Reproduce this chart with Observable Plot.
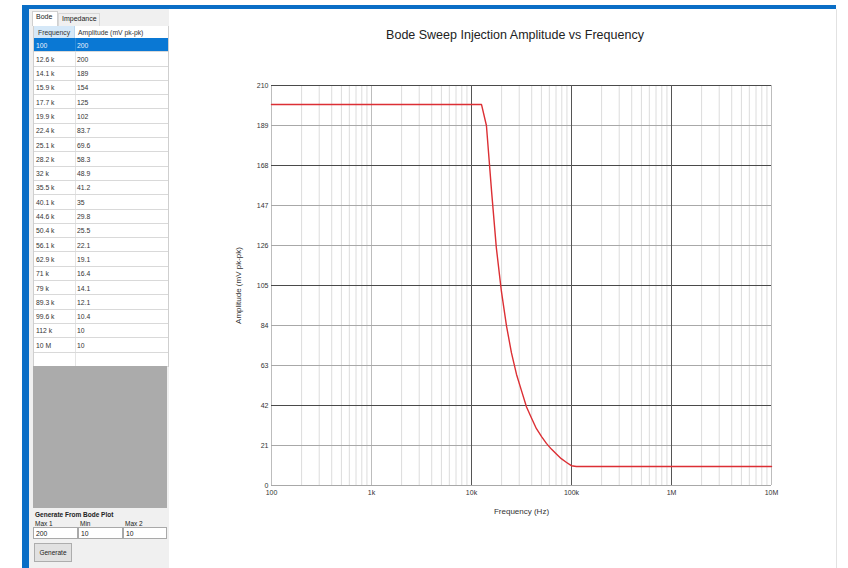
<!DOCTYPE html>
<html>
<head>
<meta charset="utf-8">
<script src="https://cdn.jsdelivr.net/npm/d3@7"></script>
<script src="https://cdn.jsdelivr.net/npm/@observablehq/plot@0.6"></script>
<style>
  html, body { margin: 0; padding: 0; }
  body { width: 848px; height: 568px; position: relative; overflow: hidden; background: #fff;
         font-family: "Liberation Sans", Arial, sans-serif; }
  .abs { position: absolute; }
  #blueTop { left: 22px; top: 5px; width: 814px; height: 4px; background: #0a6ec6; }
  #blueLeft { left: 22px; top: 5px; width: 7px; height: 563px; background: #0a6ec6; }
  #leftPanel { left: 29px; top: 9px; width: 140px; height: 559px; background: #f0f0f0; }
  #chartPanel { left: 169px; top: 9px; width: 667px; height: 559px; background: #fff; border-right: 1px solid #e2e2e2; }
  .tab { font-size: 7px; color: #222; padding: 1px 3px; box-sizing: border-box; }
  #table { left: 33px; top: 26px; width: 134px; background: #fff; border-left: 1px solid #cfcfcf; border-right: 1px solid #cfcfcf; }
  .row { position: relative; height: 14.3px; border-bottom: 1px solid #d9d9d9; box-sizing: border-box; font-size: 6.8px; color: #333; }
  .row .c1 { position: absolute; left: 2px; top: 3.5px; }
  .row .c2 { position: absolute; left: 43px; top: 3.5px; }
  .row .sep { position: absolute; left: 41px; top: 0; bottom: 0; width: 1px; background: #e4e4e4; }
  .row.sel { background: #0a78d4; color: #e8f1fb; }
  .row.sel .sep { background: #2b8ad8; }
  .hdr { position: relative; height: 12px; font-size: 6.8px; color: #333; }
  .hdr .h1 { position: absolute; left: 0; top: 0; width: 41px; height: 12px; background: #d5e8f8; border-right: 1px solid #bcd7ee; box-sizing: border-box; padding: 2.5px 0 0 4px; }
  .hdr .h2 { position: absolute; left: 41px; top: 0; width: 92px; height: 12px; padding: 2.5px 0 0 3px; box-sizing: border-box; }
  #grayArea { left: 33px; top: 366px; width: 134px; height: 142px; background: #ababab; }
  .lbl { font-size: 6.5px; color: #222; }
  .inp { height: 12px; background: #fff; border: 1px solid #a9a9a9; box-sizing: border-box; font-size: 6.8px; color: #222; padding: 2px 0 0 2px; }
  #btn { left: 34px; top: 543px; width: 38px; height: 19px; background: #e1e1e1; border: 1px solid #adadad; box-sizing: border-box; font-size: 6.5px; color: #222; text-align: center; line-height: 17px; }
  #title { left: 170px; top: 28px; width: 690px; text-align: center; font-size: 12.5px; color: #222; }
  #plotWrap { left: 170px; top: 0px; }
</style>
</head>
<body>
<script>
// ---- data ----
const freqLabels = ["100","12.6 k","14.1 k","15.9 k","17.7 k","19.9 k","22.4 k","25.1 k","28.2 k","32 k","35.5 k","40.1 k","44.6 k","50.4 k","56.1 k","62.9 k","71 k","79 k","89.3 k","99.6 k","112 k","10 M"];
const frequencies = [100,12600,14100,15900,17700,19900,22400,25100,28200,32000,35500,40100,44600,50400,56100,62900,71000,79000,89300,99600,112000,10000000];
const amplitudes = [200,200,189,154,125,102,83.7,69.6,58.3,48.9,41.2,35,29.8,25.5,22.1,19.1,16.4,14.1,12.1,10.4,10,10];
const amplitudeLabels = ["200","200","189","154","125","102","83.7","69.6","58.3","48.9","41.2","35","29.8","25.5","22.1","19.1","16.4","14.1","12.1","10.4","10","10"];
const yTicks = [0,21,42,63,84,105,126,147,168,189,210];
const yDarkTicks = [210,168,105,42];
const xTicks = [100,1000,10000,100000,1000000,10000000];
const xTickLabels = ["100","1k","10k","100k","1M","10M"];
const xDarkTicks = [10000,100000,1000000];
const generateLabels = ["Max 1","Min","Max 2"];
const generateValues = ["200","10","10"];

function el(cls, css, html, id) {
  const d = document.createElement("div");
  d.className = cls; if (id) d.id = id;
  Object.assign(d.style, css || {});
  if (html != null) d.innerHTML = html;
  document.body.appendChild(d);
  return d;
}

el("abs", null, null, "leftPanel");
el("abs", null, null, "chartPanel");
el("abs", null, null, "blueTop");
el("abs", null, null, "blueLeft");

// tabs
el("abs tab", {left:"32px", top:"11px", width:"26px", height:"15px", background:"#fff", border:"1px solid #d0d0d0", borderBottom:"none"}, "Bode");
el("abs tab", {left:"58px", top:"13px", width:"42px", height:"13px", background:"#f0f0f0", border:"1px solid #d8d8d8", borderBottom:"none"}, "Impedance");

// table
const table = el("abs", null, null, "table");
const hdr = document.createElement("div"); hdr.className = "hdr";
hdr.innerHTML = '<div class="h1">Frequency</div><div class="h2">Amplitude (mV pk-pk)</div>';
table.appendChild(hdr);
freqLabels.forEach((f, i) => {
  const r = document.createElement("div");
  r.className = "row" + (i === 0 ? " sel" : "");
  r.innerHTML = '<div class="sep"></div><div class="c1">' + f + '</div><div class="c2">' + amplitudeLabels[i] + '</div>';
  table.appendChild(r);
});
const empty = document.createElement("div"); empty.className = "row";
empty.innerHTML = '<div class="sep"></div>';
table.appendChild(empty);

el("abs", null, null, "grayArea");
el("abs lbl", {left:"35px", top:"511px", fontWeight:"bold"}, "Generate From Bode Plot");
const colX = [35, 80, 125];
generateLabels.forEach((t, i) => el("abs lbl", {left: colX[i] + "px", top: "520px"}, t));
const boxX = [33, 78, 123], boxW = [45, 45, 44];
generateValues.forEach((t, i) => el("abs inp", {left: boxX[i] + "px", top: "527px", width: boxW[i] + "px"}, t));
el("abs", null, "Generate", "btn");

el("abs", null, "Bode Sweep Injection Amplitude vs Frequency", "title").style.width = "690px";

// ---- chart ----
const series = frequencies.map((f, i) => ({f, a: amplitudes[i]}));
const allLogTicks = d3.scaleLog().domain([100, 1e7]).ticks();
const minorX = allLogTicks.filter(d => !xTicks.includes(d));

const chart = Plot.plot({
  width: 678,
  height: 568,
  marginLeft: 101,
  marginRight: 77,
  marginTop: 85,
  marginBottom: 83,
  style: {fontFamily: "'Liberation Sans', Arial, sans-serif", fontSize: "7px", color: "#333", background: "transparent"},
  x: {type: "log", domain: [100, 1e7]},
  y: {domain: [0, 210]},
  marks: [
    Plot.ruleX(minorX, {stroke: "#dcdcdc", strokeWidth: 1, strokeOpacity: 1}),
    Plot.ruleX(xTicks.filter(d => !xDarkTicks.includes(d)), {stroke: "#bdbdbd", strokeWidth: 1, strokeOpacity: 1}),
    Plot.ruleY(yTicks.filter(d => !yDarkTicks.includes(d)), {stroke: "#a8a8a8", strokeWidth: 1, strokeOpacity: 1}),
    Plot.ruleY(yDarkTicks, {stroke: "#4a4a4a", strokeWidth: 1, strokeOpacity: 1}),
    Plot.ruleX(xDarkTicks, {stroke: "#555", strokeWidth: 1, strokeOpacity: 1}),
    Plot.line(series, {x: "f", y: "a", stroke: "#dc2f34", strokeWidth: 1.4}),
    Plot.axisX({ticks: xTicks, tickFormat: (d) => xTickLabels[xTicks.indexOf(d)], tickSize: 0, tickPadding: 5,
      label: "Frequency (Hz)", labelAnchor: "center", labelOffset: 28, labelArrow: "none", fontSize: 7}),
    Plot.axisY({ticks: yTicks, tickFormat: d => String(d), tickSize: 0, tickPadding: 3,
      label: "Amplitude (mV pk-pk)", labelAnchor: "center", labelOffset: 36, labelArrow: "none", fontSize: 7})
  ]
});
const wrap = el("abs", null, null, "plotWrap");
wrap.appendChild(chart);
// axis labels slightly larger like the reference
chart.querySelectorAll("text").forEach(t => {
  if (/Frequency|Amplitude/.test(t.textContent)) t.setAttribute("font-size", "8");
});
</script>
</body>
</html>
